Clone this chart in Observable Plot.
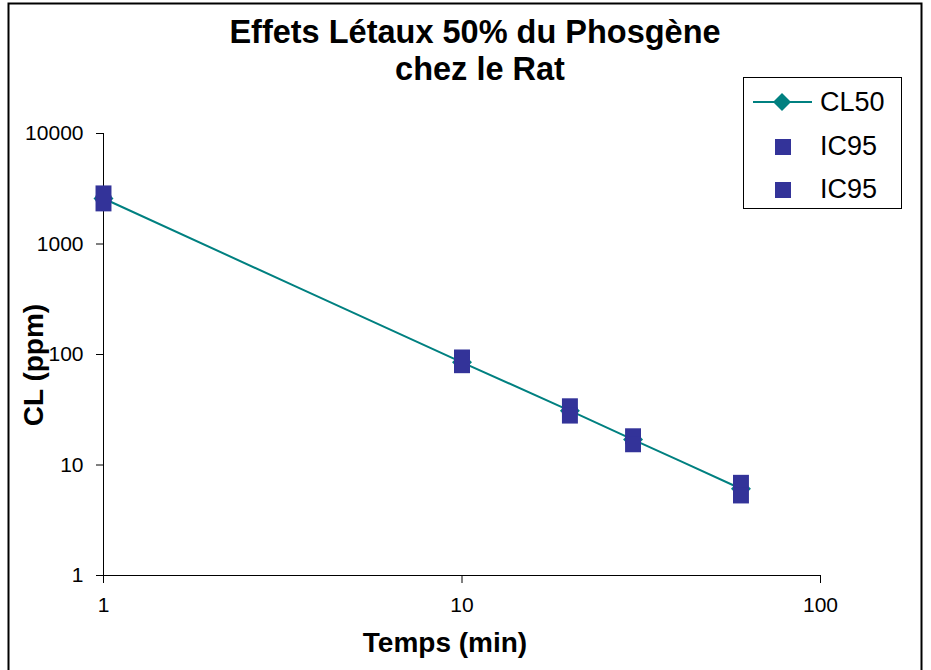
<!DOCTYPE html>
<html>
<head>
<meta charset="utf-8">
<script src="https://cdn.jsdelivr.net/npm/d3@7"></script>
<script src="https://cdn.jsdelivr.net/npm/@observablehq/plot@0.6"></script>
<style>
  html, body { margin: 0; padding: 0; background: #fff; overflow: hidden; }
  #wrap { position: relative; width: 931px; height: 670px; font-family: "Liberation Sans", Arial, sans-serif; }
  #wrap > svg { position: absolute; left: 0; top: 0; }
  #overlay { pointer-events: none; }
</style>
</head>
<body>
<div id="wrap">
  <svg id="overlay" width="931" height="670" style="position:absolute;left:0;top:0;z-index:2" font-family="Liberation Sans, Arial, sans-serif">
    <rect x="8.5" y="3.5" width="913" height="720" fill="none" stroke="#000" stroke-width="2"></rect>
    <text x="475" y="43" text-anchor="middle" font-size="32.5" font-weight="bold">Effets Létaux 50% du Phosgène</text>
    <text x="480" y="80" text-anchor="middle" font-size="32.5" font-weight="bold">chez le Rat</text>
    <text x="445" y="652" text-anchor="middle" font-size="28" font-weight="bold">Temps (min)</text>
    <text transform="translate(43,365) rotate(-90)" text-anchor="middle" font-size="28" font-weight="bold">CL (ppm)</text>
    <g id="legend">
      <rect x="743.5" y="77.5" width="158" height="131" fill="#fff" stroke="#000" stroke-width="1"></rect>
      <line x1="753" y1="102" x2="812" y2="102" stroke="#008080" stroke-width="2"></line>
      <path d="M782,93L791,102L782,111L773,102Z" fill="#008080"></path>
      <rect x="775" y="139" width="16" height="16" fill="#333399"></rect>
      <rect x="775" y="182" width="16" height="16" fill="#333399"></rect>
      <text x="820" y="111" font-size="27">CL50</text>
      <text x="820" y="155" font-size="27">IC95</text>
      <text x="820" y="198" font-size="27">IC95</text>
    </g>
  </svg>
</div>
<script>
// Data
const temps = [1, 10, 20, 30, 60];          // Temps (min)
const cl50 = [2580, 85, 31, 17, 6.1];        // CL50 (ppm)
const ic95High = [2870, 94, 34, 18.2, 6.9];  // IC95 upper bound
const ic95Low = [2330, 80, 28, 15.4, 5.3];   // IC95 lower bound
const xTicks = [1, 10, 100];
const yTicks = [1, 10, 100, 1000, 10000];

const rows = (ys) => temps.map((t, i) => ({t, v: ys[i]}));

const chart = Plot.plot({
  width: 931,
  height: 670,
  marginLeft: 103,
  marginRight: 111,
  marginTop: 133,
  marginBottom: 95,
  style: {fontFamily: "Liberation Sans, Arial, sans-serif", fontSize: "21px", background: "transparent", color: "#000"},
  x: {type: "log", domain: [1, 100]},
  y: {type: "log", domain: [1, 10000]},
  marks: [
    Plot.axisX({ticks: xTicks, tickFormat: d => String(d), tickSize: 8, tickPadding: 14, fontSize: 21, label: null, stroke: "#000"}),
    Plot.axisY({ticks: yTicks, tickFormat: d => String(d), tickSize: 7, tickPadding: 13, fontSize: 21, label: null, stroke: "#000"}),
    Plot.ruleY([1], {stroke: "#000"}),
    Plot.ruleX([1], {stroke: "#000"}),
    Plot.line(rows(cl50), {x: "t", y: "v", stroke: "#008080", strokeWidth: 2, curve: "catmull-rom"}),
    Plot.dot(rows(cl50), {x: "t", y: "v", symbol: "diamond2", r: 9, fill: "#008080"}),
    Plot.dot(rows(ic95High), {x: "t", y: "v", symbol: "square", r: 9, fill: "#333399"}),
    Plot.dot(rows(ic95Low), {x: "t", y: "v", symbol: "square", r: 9, fill: "#333399"})
  ]
});
d3.select(chart).selectAll("text")
  .attr("font-size", 21)
  .style("font-size", "21px")
  .style("font-family", "'Liberation Sans', Arial, sans-serif")
  .attr("fill", "#000");
d3.select(chart).selectAll("g").attr("font-size", 21);
document.getElementById("wrap").prepend(chart);
</script>
</body>
</html>
